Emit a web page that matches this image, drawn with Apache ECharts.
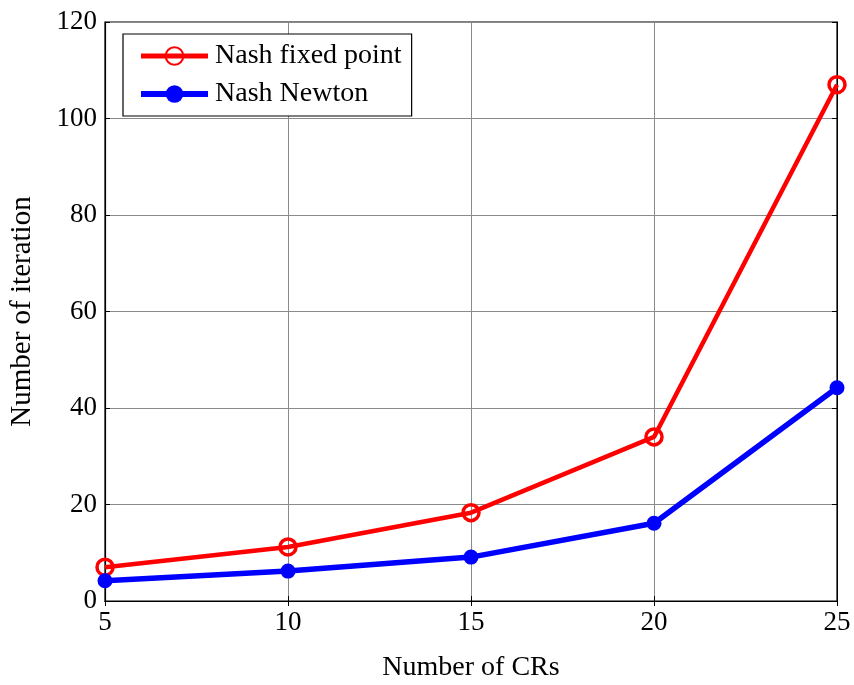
<!DOCTYPE html>
<html>
<head>
<meta charset="utf-8">
<script src="https://cdn.jsdelivr.net/npm/echarts@6/dist/echarts.min.js"></script>
<style>
  html, body { margin: 0; padding: 0; background: #fff; }
  #chart { width: 854px; height: 685px; }
</style>
</head>
<body>
<div id="chart"></div>
<script>
// Number of cognitive radios on the x axis
const crCounts = [5, 10, 15, 20, 25];
// Iterations needed by each algorithm
const fixedPointIters = [7, 11.2, 18.3, 34, 107];
const newtonIters = [4.2, 6.2, 9.1, 16.1, 44.2];
const xTicks = [5, 10, 15, 20, 25];
const yTicks = [0, 20, 40, 60, 80, 100, 120];

const serif = 'Liberation Serif';
const pairs = (xs, ys) => xs.map((x, i) => [x, ys[i]]);

const chart = echarts.init(document.getElementById('chart'));

const tickInside = { show: true, inside: true, length: 5, lineStyle: { color: '#000', width: 1 } };

chart.setOption({
  animation: false,
  backgroundColor: '#fff',
  grid: {
    left: 105, right: 17, top: 22, bottom: 84,
    outerBoundsMode: 'none',
    show: true, borderColor: '#000', borderWidth: 1.2, backgroundColor: '#fff'
  },
  legend: {
    left: 123, top: 34,
    orient: 'vertical',
    backgroundColor: '#fff',
    borderColor: '#000', borderWidth: 1.2,
    padding: [8, 10, 8, 15],
    itemGap: 10,
    itemWidth: 67, itemHeight: 22,
    textStyle: { fontFamily: serif, fontSize: 28, color: '#000', padding: [0, 0, 0, 2] },
    data: [
      { name: 'Nash fixed point', lineStyle: { width: 5 } },
      { name: 'Nash Newton', lineStyle: { width: 6 } }
    ]
  },
  xAxis: [{
    type: 'value', min: 5, max: 25, interval: 5,
    name: 'Number of CRs', nameLocation: 'middle', nameGap: 53,
    nameTextStyle: { fontFamily: serif, fontSize: 28, color: '#000' },
    axisLine: { show: true, lineStyle: { color: '#000', width: 1.2 } },
    axisTick: tickInside,
    axisLabel: { fontFamily: serif, fontSize: 27, color: '#000', margin: 8,
                 formatter: v => xTicks.includes(v) ? String(v) : '' },
    splitLine: { show: true, lineStyle: { color: '#8a8a8a', width: 1 } }
  }, {
    type: 'value', min: 5, max: 25, interval: 5, position: 'top',
    axisLine: { show: true, lineStyle: { color: '#000' } },
    axisTick: tickInside, axisLabel: { show: false }, splitLine: { show: false }
  }],
  yAxis: [{
    type: 'value', min: 0, max: 120, interval: 20,
    name: 'Number of iteration', nameLocation: 'middle', nameGap: 68, nameRotate: 90,
    nameTextStyle: { fontFamily: serif, fontSize: 29, color: '#000' },
    axisLine: { show: true, lineStyle: { color: '#000', width: 1.2 } },
    axisTick: tickInside,
    axisLabel: { fontFamily: serif, fontSize: 27, color: '#000', margin: 8,
                 formatter: v => yTicks.includes(v) ? String(v) : '' },
    splitLine: { show: true, lineStyle: { color: '#8a8a8a', width: 1 } }
  }, {
    type: 'value', min: 0, max: 120, interval: 20, position: 'right',
    axisLine: { show: true, lineStyle: { color: '#000' } },
    axisTick: tickInside, axisLabel: { show: false }, splitLine: { show: false }
  }],
  series: [{
    name: 'Nash fixed point',
    type: 'line',
    data: pairs(crCounts, fixedPointIters),
    symbol: 'circle', symbolSize: 16,
    lineStyle: { color: '#ff0000', width: 4.5 },
    itemStyle: { color: 'rgba(255,255,255,0)', borderColor: '#ff0000', borderWidth: 3.5 },
    z: 3
  }, {
    name: 'Nash Newton',
    type: 'line',
    data: pairs(crCounts, newtonIters),
    symbol: 'circle', symbolSize: 15,
    lineStyle: { color: '#0000ff', width: 5.5 },
    itemStyle: { color: '#0000ff' },
    z: 4
  }]
});
</script>
</body>
</html>
